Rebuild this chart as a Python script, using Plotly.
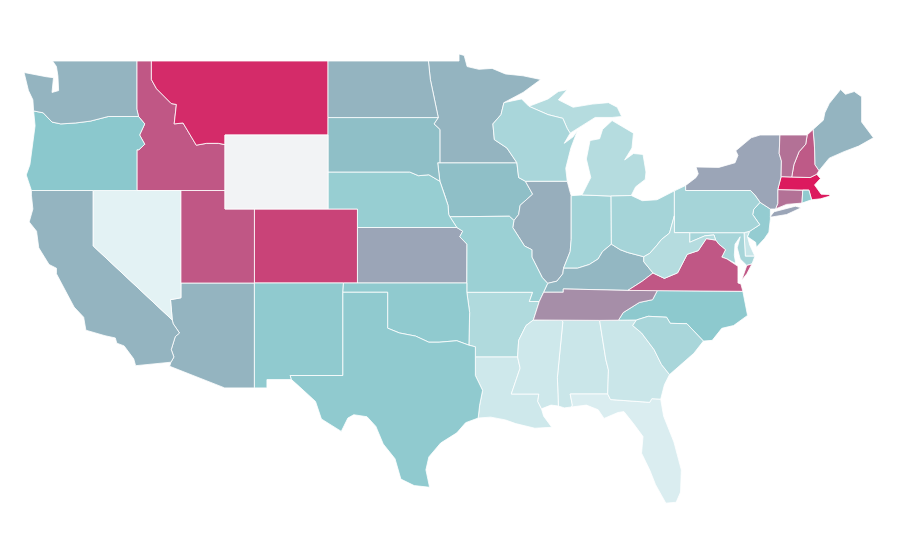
import plotly.graph_objects as go
from plotly.colors import sample_colorscale

NO_DATA_COLOR = "#f2f3f5"
colorscale = [[0, "#e8f4f6"], [0.4, "#8bc8cd"], [1, "#dc1a5e"]]

states = ["AL","AR","AZ","CA","CO","CT","DC","DE","FL","GA","IA","ID","IL","IN","KS","KY","LA","MA","MD","ME","MI","MN","MO","MS","MT","NC","ND","NE","NH","NJ","NM","NV","NY","OH","OK","OR","PA","RI","SC","SD","TN","TX","UT","VA","VT","WA","WI","WV","WY"]
values = [13,24,47,47,86,70,28,14,6,13,43,79,49,30,52,46,11,100,28,47,22,47,33,11,94,39,47,35,78,36,38,2,52,29,38,40,29,38,27,43,60,38,79,79,70,47,27,22,None]

# State outlines, lon/lat map geometry
shapes = {
"WA":[[(-124.7,48.38),(-124.4,47.4),(-124.1,46.9),(-124.05,46.3),(-123.4,46.2),(-122.8,45.7),(-122.2,45.6),(-121.2,45.65),(-120.2,45.75),(-119.3,45.93),(-118.98,46),(-116.92,46),(-117.04,46.4),(-117.04,49),(-122.76,49),(-122.5,48.7),(-122.4,48.2),(-122.35,47.4),(-122.8,47.3),(-122.7,48.1),(-123.2,48.15)]],
"OR":[[(-124.05,46.3),(-123.95,45.5),(-124.1,44.6),(-124.3,43.4),(-124.55,42.84),(-124.2,42),(-120,42),(-117.03,42),(-117.03,44.2),(-116.9,44.2),(-116.5,44.5),(-116.85,45),(-116.5,45.6),(-116.92,46),(-118.98,46),(-119.3,45.93),(-120.2,45.75),(-121.2,45.65),(-122.2,45.6),(-122.8,45.7),(-123.4,46.2)]],
"CA":[[(-124.2,42),(-120,42),(-120,39),(-114.63,35),(-114.57,34.8),(-114.14,34.3),(-114.43,34.1),(-114.7,33.4),(-114.52,33),(-114.72,32.72),(-117.12,32.53),(-117.25,32.9),(-117.9,33.6),(-118.4,33.75),(-118.5,34.03),(-119.2,34.15),(-120.5,34.45),(-120.65,35.15),(-121.3,35.7),(-121.9,36.6),(-122.1,36.95),(-122.5,37.5),(-122.5,37.8),(-123,38),(-123.7,38.9),(-123.85,39.8),(-124.35,40.3),(-124.1,41),(-124.2,41.75)]],
"NV":[[(-120,42),(-117.03,42),(-114.04,42),(-114.04,37),(-114.04,36.2),(-114.75,36.1),(-114.63,35),(-120,39)]],
"ID":[[(-117.04,49),(-116.05,49),(-116.05,48),(-115.7,47.5),(-114.7,46.7),(-114.35,46.65),(-114.5,45.6),(-113.9,45.65),(-113.45,45.05),(-113,44.45),(-112.3,44.55),(-111.5,44.55),(-111.05,44.48),(-111.05,42),(-114.04,42),(-117.03,42),(-117.03,44.2),(-116.9,44.2),(-116.5,44.5),(-116.85,45),(-116.5,45.6),(-116.92,46),(-117.04,46.4)]],
"MT":[[(-116.05,49),(-104.05,49),(-104.05,45.94),(-104.05,45),(-111.05,45),(-111.05,44.48),(-111.5,44.55),(-112.3,44.55),(-113,44.45),(-113.45,45.05),(-113.9,45.65),(-114.5,45.6),(-114.35,46.65),(-114.7,46.7),(-115.7,47.5),(-116.05,48)]],
"WY":[[(-111.05,45),(-104.05,45),(-104.05,43),(-104.05,41),(-109.05,41),(-111.05,41),(-111.05,42)]],
"UT":[[(-114.04,42),(-111.05,42),(-111.05,41),(-109.05,41),(-109.05,37),(-114.04,37)]],
"CO":[[(-109.05,41),(-104.05,41),(-102.05,41),(-102.05,40),(-102.05,37),(-103,37),(-109.05,37)]],
"AZ":[[(-114.04,37),(-109.05,37),(-109.05,31.33),(-111.07,31.33),(-114.81,32.5),(-114.72,32.72),(-114.52,33),(-114.7,33.4),(-114.43,34.1),(-114.14,34.3),(-114.57,34.8),(-114.63,35),(-114.75,36.1),(-114.04,36.2)]],
"NM":[[(-109.05,37),(-103,37),(-103.04,36.5),(-103.04,32),(-106.62,32),(-106.53,31.78),(-108.2,31.78),(-108.2,31.33),(-109.05,31.33)]],
"TX":[[(-103.04,36.5),(-100,36.5),(-100,34.56),(-99.2,34.3),(-98.1,34.13),(-97.2,33.8),(-96.5,33.8),(-95.3,33.88),(-94.48,33.64),(-94.04,33.55),(-94.04,33),(-94.04,32),(-93.55,31.2),(-93.75,30.4),(-93.85,29.7),(-94.7,29.45),(-95.3,28.9),(-96.4,28.35),(-97.2,27.6),(-97.4,26.9),(-97.15,25.96),(-98.2,26.05),(-99.1,26.4),(-99.5,27.5),(-100.3,28.3),(-100.8,29.25),(-101.4,29.77),(-102.3,29.88),(-102.7,29.7),(-103.15,28.98),(-104.5,29.65),(-104.9,30.6),(-106,31.4),(-106.53,31.78),(-106.62,32),(-103.04,32)]],
"OK":[[(-103,37),(-102.05,37),(-94.62,37),(-94.62,36.5),(-94.43,35.4),(-94.48,33.64),(-95.3,33.88),(-96.5,33.8),(-97.2,33.8),(-98.1,34.13),(-99.2,34.3),(-100,34.56),(-100,36.5),(-103.04,36.5)]],
"KS":[[(-102.05,40),(-95.3,40),(-94.9,39.8),(-95.1,39.5),(-94.61,39.1),(-94.62,37),(-102.05,37)]],
"NE":[[(-104.05,43),(-98.5,43),(-97.9,42.8),(-97.2,42.85),(-96.45,42.5),(-96.1,41.7),(-95.9,41.2),(-95.85,40.7),(-95.77,40.58),(-95.3,40),(-102.05,40),(-102.05,41),(-104.05,41)]],
"SD":[[(-104.05,45.94),(-96.56,45.94),(-96.85,45.6),(-96.45,45.3),(-96.45,43.5),(-96.6,43.5),(-96.45,42.5),(-97.2,42.85),(-97.9,42.8),(-98.5,43),(-104.05,43),(-104.05,45)]],
"ND":[[(-104.05,49),(-97.23,49),(-97.1,48),(-96.85,47),(-96.56,45.94),(-104.05,45.94)]],
"MN":[[(-97.23,49),(-95.15,49),(-95.15,49.38),(-94.8,49.3),(-94.6,48.7),(-93.8,48.55),(-92.9,48.6),(-92,48.3),(-90.8,48.2),(-89.6,48),(-90.8,47.3),(-92.1,46.75),(-92.3,46.1),(-92.85,45.6),(-92.75,44.75),(-91.9,44.3),(-91.22,43.5),(-96.45,43.5),(-96.45,45.3),(-96.85,45.6),(-96.56,45.94),(-96.85,47),(-97.1,48)]],
"IA":[[(-96.6,43.5),(-96.45,43.5),(-91.22,43.5),(-91.1,42.7),(-90.64,42.5),(-90.15,41.8),(-91,41.2),(-91.1,40.7),(-91.42,40.38),(-91.73,40.61),(-95.77,40.58),(-95.85,40.7),(-95.9,41.2),(-96.1,41.7),(-96.45,42.5)]],
"MO":[[(-95.77,40.58),(-91.73,40.61),(-91.42,40.38),(-91.5,40),(-90.7,39),(-90.2,38.8),(-90.2,38.4),(-89.5,37.3),(-89.13,36.98),(-89.4,36.5),(-89.7,36),(-90.37,36),(-90.15,36.5),(-94.62,36.5),(-94.62,37),(-94.61,39.1),(-95.1,39.5),(-94.9,39.8),(-95.3,40)]],
"AR":[[(-94.62,36.5),(-90.15,36.5),(-90.37,36),(-89.7,36),(-90.1,35),(-90.6,34.7),(-91.1,33.9),(-91.17,33),(-94.04,33),(-94.04,33.55),(-94.48,33.64),(-94.43,35.4)]],
"LA":[[(-94.04,33),(-91.17,33),(-91,32.4),(-91.6,31),(-89.73,31),(-89.8,30.6),(-89.55,30.2),(-89.4,29.8),(-88.85,29.2),(-90,29.15),(-91.3,29.4),(-92,29.6),(-93,29.75),(-93.85,29.7),(-93.75,30.4),(-93.55,31.2),(-94.04,32)]],
"MS":[[(-90.1,35),(-88.2,35),(-88.1,34.9),(-88.47,31.9),(-88.4,30.35),(-88.9,30.4),(-89.55,30.2),(-89.8,30.6),(-89.73,31),(-91.6,31),(-91,32.4),(-91.17,33),(-91.1,33.9),(-90.6,34.7)]],
"AL":[[(-88.2,35),(-85.6,34.98),(-85.18,32.87),(-85,32.3),(-85.05,31),(-87.6,31),(-87.45,30.4),(-87.5,30.3),(-88,30.25),(-88.4,30.35),(-88.47,31.9),(-88.1,34.9)]],
"GA":[[(-85.6,34.98),(-84.32,34.99),(-83.1,35),(-83.35,34.7),(-82.75,34.3),(-81.9,33.4),(-81.4,32.6),(-80.85,32.05),(-81.2,31.5),(-81.45,30.72),(-82.05,30.75),(-82.2,30.55),(-84.86,30.7),(-85.05,31),(-85,32.3),(-85.18,32.87)]],
"FL":[[(-87.6,31),(-85.05,31),(-84.86,30.7),(-82.2,30.55),(-82.05,30.75),(-81.45,30.72),(-81.25,29.8),(-80.55,28.4),(-80.05,26.9),(-80.1,25.7),(-80.4,25.15),(-81.1,25.1),(-81.8,26.1),(-82.2,26.9),(-82.75,27.8),(-82.65,28.7),(-83.3,29.4),(-83.95,30.05),(-84.35,30),(-85.3,29.68),(-85.7,30.15),(-86.5,30.4),(-87.5,30.3),(-87.45,30.4)]],
"SC":[[(-83.1,35),(-82.3,35.2),(-81.05,35.15),(-80.8,34.82),(-79.67,34.8),(-78.55,33.86),(-79.2,33.2),(-79.9,32.7),(-80.85,32.05),(-81.4,32.6),(-81.9,33.4),(-82.75,34.3),(-83.35,34.7)]],
"NC":[[(-84.32,34.99),(-83.1,35),(-82.3,35.2),(-81.05,35.15),(-80.8,34.82),(-79.67,34.8),(-78.55,33.86),(-77.95,33.9),(-77.3,34.55),(-76.5,34.7),(-75.55,35.25),(-75.87,36.55),(-81.68,36.59),(-82,36.1),(-82.9,35.95),(-84,35.4)]],
"TN":[[(-89.7,36),(-89.4,36.5),(-88.07,36.5),(-88.07,36.68),(-83.68,36.6),(-81.68,36.59),(-82,36.1),(-82.9,35.95),(-84,35.4),(-84.32,34.99),(-85.6,34.98),(-88.2,35),(-90.1,35)]],
"KY":[[(-89.4,36.5),(-89.13,36.98),(-88.5,37.1),(-88.1,37.5),(-88.05,37.8),(-87.1,37.8),(-86.3,38),(-85.7,38.3),(-85.4,38.7),(-84.8,39.1),(-84.2,38.8),(-83.7,38.65),(-82.6,38.42),(-82.6,38.15),(-81.97,37.54),(-82.7,37.1),(-83.68,36.6),(-88.07,36.68),(-88.07,36.5)]],
"VA":[[(-83.68,36.6),(-81.68,36.59),(-75.87,36.55),(-76,36.95),(-76.2,37),(-76.2,37.6),(-76.2,37.9),(-76.95,38.3),(-77.3,38.4),(-77.05,38.8),(-77.5,39.1),(-77.72,39.32),(-78.35,39.4),(-78.9,38.75),(-79.65,38.55),(-80.3,37.55),(-81.2,37.25),(-81.97,37.54),(-82.7,37.1)],[(-75.95,37.15),(-75.6,37.95),(-75.25,38.03),(-75.6,37.5)]],
"WV":[[(-82.6,38.42),(-82.2,38.6),(-81.75,39),(-81.4,39.35),(-80.85,39.7),(-80.52,40.64),(-80.52,39.72),(-79.48,39.72),(-79.48,39.2),(-78.45,39.55),(-77.83,39.6),(-77.72,39.32),(-78.35,39.4),(-78.9,38.75),(-79.65,38.55),(-80.3,37.55),(-81.2,37.25),(-81.97,37.54),(-82.6,38.15)]],
"OH":[[(-84.82,41.7),(-83.45,41.73),(-82.7,41.45),(-81.7,41.5),(-80.52,41.98),(-80.52,40.64),(-80.85,39.7),(-81.4,39.35),(-81.75,39),(-82.2,38.6),(-82.6,38.42),(-83.7,38.65),(-84.2,38.8),(-84.8,39.1)]],
"IN":[[(-87.53,41.72),(-86.8,41.76),(-84.82,41.7),(-84.8,39.1),(-85.4,38.7),(-85.7,38.3),(-86.3,38),(-87.1,37.8),(-88.05,37.8),(-87.6,38.7),(-87.53,39.35)]],
"IL":[[(-90.64,42.5),(-87.8,42.5),(-87.6,41.9),(-87.53,41.72),(-87.53,39.35),(-87.6,38.7),(-88.05,37.8),(-88.1,37.5),(-88.5,37.1),(-89.13,36.98),(-89.5,37.3),(-90.2,38.4),(-90.2,38.8),(-90.7,39),(-91.5,40),(-91.42,40.38),(-91.1,40.7),(-91,41.2),(-90.15,41.8)]],
"WI":[[(-92.1,46.75),(-90.9,46.95),(-90.4,46.55),(-89.1,46.1),(-88.1,45.9),(-87.8,45.35),(-87.6,45.1),(-88,44.55),(-87.4,44.9),(-87.1,45.25),(-87.55,44.3),(-87.9,43.2),(-87.8,42.5),(-90.64,42.5),(-91.1,42.7),(-91.22,43.5),(-91.9,44.3),(-92.75,44.75),(-92.85,45.6),(-92.3,46.1)]],
"MI":[[(-90.4,46.55),(-89.1,46.95),(-88.4,47.35),(-87.8,47.45),(-88.4,46.9),(-87.4,46.5),(-86.1,46.67),(-85,46.75),(-84.4,46.5),(-84.1,46),(-84.75,45.95),(-85.9,45.95),(-86.6,45.6),(-87.6,45.1),(-87.8,45.35),(-88.1,45.9),(-89.1,46.1)],[(-86.8,41.76),(-84.82,41.7),(-83.45,41.73),(-83.15,42.2),(-82.5,42.6),(-82.45,43),(-82.65,43.95),(-83.3,44),(-83.9,43.65),(-83.4,44.3),(-83.3,45.1),(-84.75,45.78),(-85.4,45.3),(-85.6,44.8),(-86.25,44.7),(-86.5,43.7),(-86.2,42.7)]],
"PA":[[(-80.52,41.98),(-79.76,42.27),(-79.76,42),(-75.35,42),(-75.05,41.75),(-74.7,41.36),(-75.13,40.98),(-75.2,40.7),(-74.72,40.15),(-75.4,39.8),(-75.79,39.72),(-79.48,39.72),(-80.52,39.72),(-80.52,40.64)]],
"NY":[[(-79.76,42.27),(-79.05,42.7),(-78.9,42.9),(-79.05,43.27),(-77.5,43.25),(-76.4,43.5),(-76.2,43.9),(-76.35,44.15),(-75.3,44.85),(-74.7,45),(-73.35,45),(-73.4,44),(-73.25,43.6),(-73.27,42.75),(-73.5,42.05),(-73.5,41.3),(-73.65,41),(-74,41),(-74.7,41.36),(-75.05,41.75),(-75.35,42),(-79.76,42)],[(-74,40.6),(-73.75,40.85),(-72.3,41.15),(-71.9,41.07),(-72.9,40.7),(-73.9,40.57)]],
"NJ":[[(-74.7,41.36),(-74,41),(-74,40.45),(-74.1,39.75),(-74.4,39.4),(-74.95,38.93),(-75,39.2),(-75.55,39.5),(-75.4,39.8),(-74.72,40.15),(-75.2,40.7),(-75.13,40.98)]],
"DE":[[(-75.79,39.72),(-75.4,39.8),(-75.55,39.5),(-75.4,39.05),(-75.05,38.45),(-75.7,38.45)]],
"MD":[[(-79.48,39.72),(-75.79,39.72),(-75.7,38.45),(-75.05,38.45),(-75.25,38.03),(-75.6,37.95),(-76.05,38.3),(-76.25,38.9),(-76.05,39.5),(-76.4,39.1),(-76.45,38.5),(-76.35,38.05),(-76.95,38.3),(-77.3,38.4),(-77.05,38.8),(-77.5,39.1),(-77.72,39.32),(-77.83,39.6),(-78.45,39.55),(-79.48,39.2)]],
"DC":[[(-77.12,38.93),(-77.04,39),(-76.91,38.89),(-77.04,38.79)]],
"CT":[[(-73.5,42.05),(-71.8,42.02),(-71.85,41.32),(-72.9,41.25),(-73.65,41),(-73.5,41.3)]],
"RI":[[(-71.8,42.02),(-71.38,42.02),(-71.2,41.5),(-71.85,41.32)]],
"MA":[[(-73.5,42.05),(-73.27,42.75),(-72.55,42.73),(-71.3,42.7),(-70.85,42.88),(-70.6,42.65),(-71,42.3),(-70.55,41.8),(-70,41.78),(-70.1,42.05),(-69.95,41.7),(-70.6,41.55),(-71.2,41.5),(-71.38,42.02),(-71.8,42.02)]],
"VT":[[(-73.35,45),(-71.5,45),(-71.6,44.5),(-72.05,44.1),(-72.4,43.4),(-72.55,42.73),(-73.27,42.75),(-73.25,43.6),(-73.4,44)]],
"NH":[[(-71.5,45),(-71.1,45.3),(-71,44.3),(-70.98,43.4),(-70.7,43.07),(-70.85,42.88),(-71.3,42.7),(-72.55,42.73),(-72.4,43.4),(-72.05,44.1),(-71.6,44.5)]],
"ME":[[(-71.1,45.3),(-70.4,45.8),(-70.3,46.2),(-70,46.7),(-69.23,47.46),(-68.9,47.2),(-68.3,47.35),(-67.8,47.07),(-67.8,45.7),(-67.45,45.3),(-67,44.85),(-68,44.4),(-69,44.1),(-70,43.75),(-70.7,43.07),(-70.98,43.4),(-71,44.3)]],
}

fig = go.Figure()
for st, val in zip(states, values):
    xs, ys = [], []
    for ring in shapes[st]:
        ring = ring + [ring[0]]
        xs += [p[0] for p in ring] + [None]
        ys += [p[1] for p in ring] + [None]
    color = NO_DATA_COLOR if val is None else sample_colorscale(colorscale, val / 100)[0]
    fig.add_trace(go.Scatter(x=xs, y=ys, mode="lines", fill="toself", fillcolor=color,
                             line=dict(color="white", width=0.8), name=st, showlegend=False,
                             hoverinfo="name"))

fig.update_xaxes(visible=False, range=[-125.79, -64.65])
fig.update_yaxes(visible=False, range=[21.595, 51.865])
fig.update_layout(width=900, height=560, margin=dict(l=0, r=0, t=0, b=0),
                  paper_bgcolor="white", plot_bgcolor="white")
fig.write_html("out.html")
